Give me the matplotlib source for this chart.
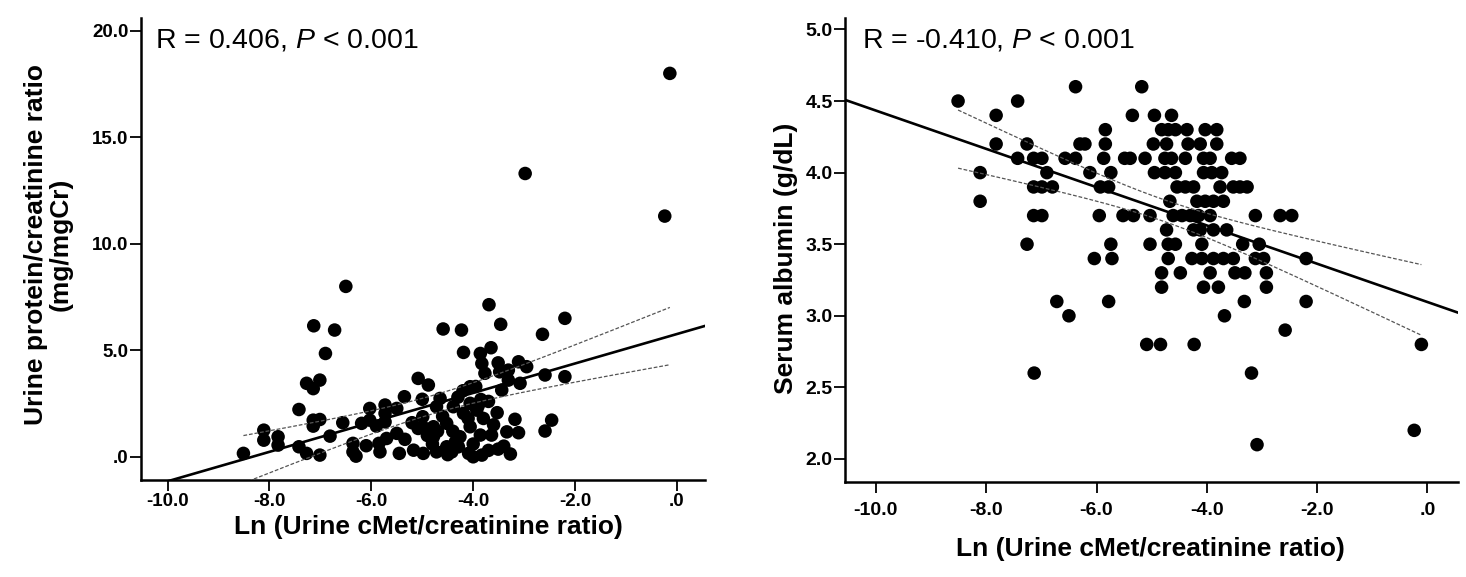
import numpy as np
import matplotlib
matplotlib.use("Agg")
import matplotlib.pyplot as plt
from matplotlib.ticker import FuncFormatter

plt.rcParams['font.family'] = ['Liberation Sans', 'DejaVu Sans']
plt.rcParams['mathtext.fontset'] = 'custom'
plt.rcParams['mathtext.rm'] = 'Liberation Sans'
plt.rcParams['mathtext.it'] = 'Liberation Sans:italic'

# ---------------- data: left panel (urine protein/creatinine ratio) ----------------
upcr_x = [-7.13, -6.72, -6.90, -7.27, -7.01, -7.14, -7.42, -8.11, -8.11, -7.83, -7.83, -8.51,
          -7.14, -7.01, -7.14, -6.56, -6.81, -7.42, -7.27, -7.01, -6.03, -5.73, -5.73, -5.50,
          -5.35, -5.08, -4.88, -6.19, -6.03, -5.90, -5.73, -6.36, -6.36, -6.30, -6.10, -5.85,
          -5.83, -5.70, -5.45, -5.34, -5.17, -4.98, -4.99, -5.08, -4.94,
          -3.69, -4.59, -4.23, -3.46, -2.20, -2.64, -4.19, -3.86, -3.65, -3.83, -3.77, -3.51,
          -3.48, -3.31, -3.11, -2.95, -3.31, -3.44, -3.08, -2.59, -2.20, -4.06, -4.65,
          -3.85, -4.06, -4.39, -4.72, -4.19, -3.93, -3.80, -3.53, -3.18, -2.46, -2.59,
          -3.34, -3.11, -3.64, -3.86, -4.06, -4.26, -4.52, -4.78, -4.78, -4.72, -4.42,
          -4.09, -4.00, -3.83, -3.51, -3.27, -4.29, -4.52,
          -0.14, -2.98, -0.24, -6.50,
          -4.90, -4.60, -4.40, -4.30, -4.10, -3.90, -3.70, -4.20, -3.60, -4.80, -5.20, -5.50,
          -4.00, -3.70, -4.50, -3.95, -4.35, -3.40, -5.00, -4.70]
upcr_y = [6.15, 5.95, 4.85, 3.45, 3.60, 3.20, 2.22, 1.25, 0.78, 0.94, 0.55, 0.16,
          1.72, 1.75, 1.44, 1.60, 0.97, 0.47, 0.16, 0.08, 2.27, 2.43, 2.04, 2.27,
          2.82, 3.68, 3.37, 1.57, 1.72, 1.44, 1.64, 0.63, 0.23, 0.03, 0.52, 0.63,
          0.23, 0.86, 0.16, 0.82, 0.31, 0.16, 1.88, 1.33, 1.33,
          7.14, 6.00, 5.95, 6.22, 6.50, 5.75, 4.90, 4.85, 5.12, 4.38, 3.92, 4.41,
          3.99, 4.07, 4.46, 4.23, 3.60, 3.13, 3.45, 3.84, 3.76, 3.29, 2.74,
          2.69, 2.51, 2.35, 2.35, 2.04, 2.19, 1.80, 2.07, 1.76, 1.72, 1.21,
          1.17, 1.13, 1.02, 1.02, 1.41, 0.94, 1.57, 1.41, 0.94, 0.23, 0.23,
          0.16, 0.00, 0.08, 0.36, 0.13, 0.47, 0.47,
          18.0, 13.3, 11.3, 8.0,
          1.00, 1.90, 1.20, 2.80, 1.80, 2.40, 2.60, 3.10, 1.50, 0.60, 1.60, 1.10,
          0.60, 0.30, 0.10, 3.30, 0.70, 0.50, 2.70, 1.20]

# ---------------- data: right panel (serum albumin) ----------------
alb_x = [-6.38, -5.18,
         -8.51, -7.43,
         -7.82, -5.35, -4.95, -4.64,
         -5.84, -4.82, -4.70, -4.57, -4.36, -4.03, -3.82,
         -7.82, -7.26, -6.30, -6.21, -5.84, -4.97, -4.73, -4.34, -4.12, -3.82,
         -7.43, -7.14, -6.99, -6.57, -6.38, -5.87, -5.49, -5.39, -5.12, -4.76, -4.64, -4.39,
         -4.06, -3.94, -3.55, -3.40,
         -8.11, -6.90, -6.12, -5.74, -4.95, -4.76, -4.57, -4.06, -3.91, -3.73,
         -7.14, -6.99, -6.80, -5.93, -5.78, -4.54, -4.39, -4.24, -3.76, -3.52, -3.40, -3.27,
         -8.11, -4.67, -4.18, -4.03, -3.88, -3.70,
         -7.14, -6.99, -5.95, -5.52, -5.33, -5.03, -4.61, -4.45, -4.30, -4.15, -3.94, -3.12,
         -2.67, -2.46,
         -4.73, -4.24, -4.12, -3.88, -3.64,
         -7.26, -5.74, -5.03, -4.70, -4.57, -4.09, -3.35, -3.05,
         -6.04, -5.72, -4.70, -4.27, -4.09, -3.88, -3.70, -3.52, -3.12, -2.97, -2.20,
         -4.82, -4.48, -3.94, -3.49, -3.31, -2.92,
         -4.82, -4.06, -3.79, -2.92,
         -6.72, -5.78, -3.32, -2.20,
         -6.50, -3.68,
         -2.58,
         -5.09, -4.84, -4.23, -0.11,
         -7.13, -3.19,
         -0.24,
         -3.09]
alb_y = [4.6] * 2 + [4.5] * 2 + [4.4] * 4 + [4.3] * 7 + [4.2] * 10 + [4.1] * 16 + \
        [4.0] * 10 + [3.9] * 12 + [3.8] * 6 + [3.7] * 14 + [3.6] * 5 + [3.5] * 8 + \
        [3.4] * 11 + [3.3] * 6 + [3.2] * 4 + [3.1] * 4 + [3.0] * 2 + [2.9] * 1 + \
        [2.8] * 4 + [2.6] * 2 + [2.2] * 1 + [2.1] * 1

left_annot = "R = 0.406, $P$ < 0.001"
right_annot = "R = -0.410, $P$ < 0.001"
x_label = "Ln (Urine cMet/creatinine ratio)"
left_ylabel = "Urine protein/creatinine ratio\n(mg/mgCr)"
right_ylabel = "Serum albumin (g/dL)"
x_ticks = [-10.0, -8.0, -6.0, -4.0, -2.0, 0.0]
left_yticks = [0.0, 5.0, 10.0, 15.0, 20.0]
right_yticks = [2.0, 2.5, 3.0, 3.5, 4.0, 4.5, 5.0]


def spss_fmt(v, pos):
    s = f"{v:.1f}"
    if s.startswith("0."):
        s = s[1:]
    elif s.startswith("-0."):
        s = "-" + s[2:]
    return s


def draw(ax, x, y, xlim, ylim, xticks, yticks, labelsize):
    x = np.asarray(x, float)
    y = np.asarray(y, float)
    ax.scatter(x, y, s=95, color='black', edgecolors='none', zorder=3)
    n = len(x)
    b, a = np.polyfit(x, y, 1)
    xx = np.linspace(xlim[0], xlim[1], 200)
    ax.plot(xx, a + b * xx, color='black', lw=1.9, zorder=4)
    resid = y - (a + b * x)
    s = np.sqrt(np.sum(resid ** 2) / (n - 2))
    sxx = np.sum((x - x.mean()) ** 2)
    xc = np.linspace(x.min(), x.max(), 200)
    hw = 1.976 * s * np.sqrt(1.0 / n + (xc - x.mean()) ** 2 / sxx)
    for sign in (1, -1):
        ax.plot(xc, a + b * xc + sign * hw, color='#555555', lw=0.9,
                dashes=(3, 1.5), zorder=4)
    ax.set_xlim(*xlim)
    ax.set_ylim(*ylim)
    for sp in ('top', 'right'):
        ax.spines[sp].set_visible(False)
    for sp in ('left', 'bottom'):
        ax.spines[sp].set_linewidth(1.8)
    ax.set_xticks(xticks)
    ax.set_yticks(yticks)
    ax.xaxis.set_major_formatter(FuncFormatter(spss_fmt))
    ax.yaxis.set_major_formatter(FuncFormatter(spss_fmt))
    ax.tick_params(direction='out', length=8, width=1.3, labelsize=labelsize)
    for lab in ax.get_xticklabels() + ax.get_yticklabels():
        lab.set_fontweight('bold')


fig = plt.figure(figsize=(14.66, 5.77), dpi=100)
ax1 = fig.add_axes([0.0962, 0.1681, 0.3847, 0.8007])
ax2 = fig.add_axes([0.5764, 0.1641, 0.4180, 0.8047])

draw(ax1, upcr_x, upcr_y, (-10.52, 0.55), (-1.09, 20.6), x_ticks, left_yticks, 13.5)
ax1.tick_params(axis='x', pad=1)
ax1.tick_params(axis='y', pad=1)
ax1.set_xlabel(x_label, fontsize=19, fontweight='bold')
ax1.xaxis.set_label_coords(0.509, -0.076)
ax1.set_ylabel(left_ylabel, fontsize=19, fontweight='bold', linespacing=1.0)
ax1.yaxis.set_label_coords(-0.122, 0.51)
ax1.text(0.025, 0.937, left_annot, transform=ax1.transAxes, fontsize=20.5,
         ha='left', va='baseline')

draw(ax2, alb_x, alb_y, (-10.56, 0.55), (1.837, 5.08), x_ticks, right_yticks, 14)
ax2.tick_params(axis='x', pad=6)
ax2.tick_params(axis='y', pad=1)
ax2.set_xlabel(x_label, fontsize=19, fontweight='bold')
ax2.xaxis.set_label_coords(0.498, -0.118)
ax2.set_ylabel(right_ylabel, fontsize=19, fontweight='bold')
ax2.yaxis.set_label_coords(-0.076, 0.483)
ax2.text(0.028, 0.9375, right_annot, transform=ax2.transAxes, fontsize=20.5,
         ha='left', va='baseline')

fig.savefig("out.png", dpi=100)
